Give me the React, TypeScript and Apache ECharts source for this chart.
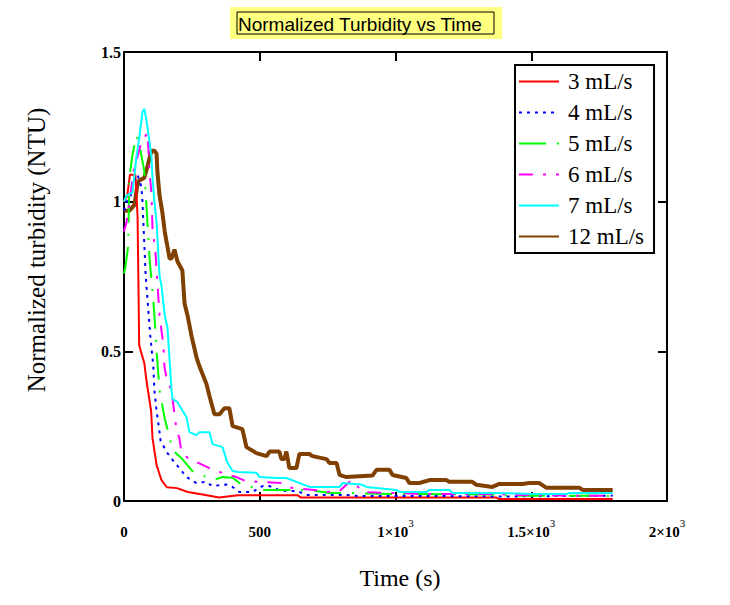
import { useEffect, useRef } from "react";
import * as echarts from "echarts";

// time (s), normalized turbidity
const flow3 = [
  [0, 1.0], [12, 1.02], [22, 1.09], [42, 1.09], [50, 0.95], [56, 0.52], [62, 0.5], [75, 0.46],
  [83, 0.4], [100, 0.3], [105, 0.21], [120, 0.12], [138, 0.07], [158, 0.046], [195, 0.043],
  [235, 0.03], [290, 0.022], [350, 0.012], [420, 0.019], [640, 0.019], [650, 0.012],
  [1370, 0.012], [1380, 0.007], [1800, 0.007],
];
const flow4 = [
  [0, 0.97], [10, 1.0], [25, 1.02], [35, 1.07], [50, 1.09], [64, 1.05], [68, 1.0], [80, 0.75],
  [97, 0.55], [108, 0.45], [112, 0.37], [120, 0.3], [128, 0.25], [135, 0.2], [160, 0.16],
  [185, 0.13], [204, 0.11], [230, 0.08], [267, 0.06], [300, 0.064], [326, 0.05], [377, 0.055],
  [400, 0.047], [425, 0.03], [473, 0.03], [510, 0.05], [535, 0.05], [575, 0.035], [640, 0.033],
  [672, 0.02], [820, 0.02], [860, 0.017], [1100, 0.017], [1400, 0.015], [1800, 0.018],
];
const flow5 = [
  [0, 0.76], [5, 0.78], [15, 0.85], [20, 1.08], [30, 1.15], [45, 1.22], [55, 1.2], [75, 1.1],
  [85, 0.95], [95, 0.8], [105, 0.7], [112, 0.62], [120, 0.5], [131, 0.37], [149, 0.28],
  [168, 0.21], [179, 0.17], [215, 0.14], [252, 0.1], [304, 0.08], [330, 0.07], [363, 0.08],
  [400, 0.078], [425, 0.06], [470, 0.047], [499, 0.037], [620, 0.037], [694, 0.035],
  [757, 0.027], [819, 0.027], [989, 0.023], [1088, 0.023], [1357, 0.022], [1400, 0.018],
  [1800, 0.017],
];
const flow6 = [
  [0, 0.9], [9, 0.93], [20, 1.0], [35, 1.1], [50, 1.15], [64, 1.2], [87, 1.23], [94, 1.1],
  [101, 1.03], [105, 0.91], [116, 0.83], [123, 0.73], [131, 0.62], [138, 0.57], [145, 0.52],
  [149, 0.45], [156, 0.41], [175, 0.37], [193, 0.24], [204, 0.21], [212, 0.16], [241, 0.14],
  [267, 0.13], [315, 0.11], [341, 0.1], [363, 0.094], [414, 0.08], [455, 0.064], [499, 0.064],
  [580, 0.06], [617, 0.044], [701, 0.037], [746, 0.03], [794, 0.033], [838, 0.07], [856, 0.054],
  [878, 0.03], [967, 0.027], [1014, 0.027], [1095, 0.023], [1381, 0.023], [1450, 0.02],
  [1600, 0.018], [1800, 0.017],
];
const flow7 = [
  [0, 1.0], [9, 1.02], [31, 1.03], [40, 1.1], [46, 1.15], [57, 1.22], [68, 1.3], [75, 1.31],
  [83, 1.27], [94, 1.2], [101, 1.15], [105, 1.08], [112, 1.0], [120, 0.93], [131, 0.75],
  [138, 0.72], [150, 0.62], [160, 0.58], [175, 0.37], [179, 0.34], [197, 0.33], [230, 0.28],
  [241, 0.23], [267, 0.22], [278, 0.23], [315, 0.23], [326, 0.19], [363, 0.18], [380, 0.13],
  [400, 0.1], [420, 0.097], [488, 0.094], [499, 0.08], [562, 0.077], [598, 0.077], [635, 0.064],
  [683, 0.047], [794, 0.047], [805, 0.06], [878, 0.054], [893, 0.047], [1003, 0.037],
  [1014, 0.03], [1114, 0.03], [1125, 0.037], [1198, 0.037], [1209, 0.027], [1357, 0.027],
  [1450, 0.025], [1504, 0.023], [1630, 0.023], [1640, 0.027], [1800, 0.027],
];
const flow12 = [
  [0, 0.97], [20, 0.97], [39, 0.99], [48, 1.05], [55, 1.07], [75, 1.08], [87, 1.12], [101, 1.17],
  [112, 1.17], [120, 1.16], [123, 1.1], [131, 1.02], [142, 0.96], [150, 0.9], [160, 0.85],
  [168, 0.81], [175, 0.81], [186, 0.84], [197, 0.8], [215, 0.77], [223, 0.66], [234, 0.62],
  [249, 0.55], [267, 0.48], [278, 0.45], [304, 0.39], [315, 0.35], [333, 0.29], [352, 0.29],
  [370, 0.31], [388, 0.31], [400, 0.25], [436, 0.24], [451, 0.18], [488, 0.16], [525, 0.15],
  [536, 0.165], [572, 0.165], [580, 0.14], [591, 0.14], [598, 0.165], [609, 0.11], [635, 0.11],
  [646, 0.157], [683, 0.157], [694, 0.15], [746, 0.14], [757, 0.127], [783, 0.127], [794, 0.087],
  [819, 0.08], [915, 0.085], [930, 0.104], [978, 0.104], [989, 0.087], [1040, 0.077],
  [1051, 0.06], [1088, 0.06], [1125, 0.07], [1188, 0.07], [1198, 0.064], [1283, 0.064],
  [1298, 0.054], [1357, 0.047], [1382, 0.057], [1467, 0.057], [1493, 0.06], [1530, 0.06],
  [1556, 0.044], [1678, 0.044], [1689, 0.037], [1800, 0.037],
];

const seriesNames = ["3 mL/s", "4 mL/s", "5 mL/s", "6 mL/s", "7 mL/s", "12 mL/s"];
const xTickLabels: Record<number, string> = {
  0: "{b|0}",
  500: "{b|500}",
  1000: "{b|1×10}{s|3}",
  1500: "{b|1.5×10}{s|3}",
  2000: "{b|2×10}{s|3}",
};

const serif = '"Liberation Serif", "Times New Roman", serif';

export default function App() {
  const ref = useRef<HTMLDivElement | null>(null);

  useEffect(() => {
    if (!ref.current) return;
    const chart = echarts.init(ref.current, undefined, { renderer: "svg" });

    const styles = [
      { color: "#ff0000", width: 2, type: "solid" },
      { color: "#0000ff", width: 2, type: [3, 5] },
      { color: "#00ff00", width: 2, type: [27, 11, 2, 11] },
      { color: "#ff00ff", width: 2, type: [14, 10, 3, 10] },
      { color: "#00ffff", width: 2, type: "solid" },
      { color: "#804000", width: 4, type: "solid" },
    ];
    const data = [flow3, flow4, flow5, flow6, flow7, flow12];

    const tick = { show: true, inside: true, length: 9, lineStyle: { color: "#000", width: 2 } };
    const line = { show: true, onZero: false, lineStyle: { color: "#000", width: 2 } };

    chart.setOption({
      animation: false,
      grid: { left: 124, top: 52, width: 543, height: 449, containLabel: false },
      graphic: [
        { type: "rect", shape: { x: 230, y: 7, width: 272, height: 32 }, style: { fill: "#ffff80" } },
        {
          type: "rect",
          shape: { x: 237, y: 12, width: 257, height: 22 },
          style: { fill: "none", stroke: "#000", lineWidth: 1 },
        },
        {
          type: "text",
          x: 238,
          y: 24,
          style: {
            text: "Normalized Turbidity vs Time",
            font: '19px "Liberation Sans", Arial, sans-serif',
            fill: "#000",
            verticalAlign: "middle",
          },
        },
        {
          type: "text",
          x: 36,
          y: 250,
          rotation: Math.PI / 2,
          style: {
            text: "Normalized turbidity (NTU)",
            font: `25px ${serif}`,
            fill: "#000",
            align: "center",
            verticalAlign: "middle",
          },
        },
        {
          type: "text",
          x: 400,
          y: 578,
          style: {
            text: "Time (s)",
            font: `24px ${serif}`,
            fill: "#000",
            align: "center",
            verticalAlign: "middle",
          },
        },
      ],
      legend: {
        orient: "vertical",
        left: 515,
        top: 65,
        padding: [5, 10, 5, 3],
        itemWidth: 40,
        itemHeight: 14,
        itemGap: 8,
        borderColor: "#000",
        borderWidth: 2,
        backgroundColor: "#fff",
        itemStyle: { opacity: 0, borderWidth: 0 },
        textStyle: { fontFamily: serif, fontSize: 23, color: "#000", padding: [0, 0, 0, 4] },
        data: seriesNames,
      },
      xAxis: [
        {
          type: "value",
          min: 0,
          max: 2000,
          interval: 500,
          axisLine: line,
          axisTick: tick,
          splitLine: { show: false },
          axisLabel: {
            margin: 16,
            formatter: (v: number) => xTickLabels[v] ?? String(v),
            rich: {
              b: { fontFamily: serif, fontWeight: "bold", fontSize: 15, color: "#000", lineHeight: 30 },
              s: { fontFamily: serif, fontSize: 11, color: "#000", lineHeight: 12, verticalAlign: "top" },
            },
          },
        },
        {
          type: "value",
          position: "top",
          min: 0,
          max: 2000,
          interval: 500,
          axisLine: line,
          axisTick: tick,
          axisLabel: { show: false },
          splitLine: { show: false },
        },
      ],
      yAxis: [
        {
          type: "value",
          min: 0,
          max: 1.5,
          interval: 0.5,
          axisLine: line,
          axisTick: tick,
          splitLine: { show: false },
          axisLabel: {
            margin: 3,
            fontFamily: serif,
            fontWeight: "bold",
            fontSize: 16,
            color: "#000",
          },
        },
        {
          type: "value",
          position: "right",
          min: 0,
          max: 1.5,
          interval: 0.5,
          axisLine: line,
          axisTick: tick,
          axisLabel: { show: false },
          splitLine: { show: false },
        },
      ],
      series: seriesNames.map((name, i) => ({
        name,
        type: "line",
        xAxisIndex: 0,
        yAxisIndex: 0,
        symbol: "none",
        showSymbol: false,
        color: styles[i].color,
        lineStyle: styles[i],
        data: data[i],
        z: 2 + (i === 5 ? 0 : 1),
      })),
    });

    return () => {
      chart.dispose();
    };
  }, []);

  return (
    <div
      ref={ref}
      style={{ position: "absolute", left: 0, top: 0, width: 730, height: 605, background: "#fff" }}
    />
  );
}
